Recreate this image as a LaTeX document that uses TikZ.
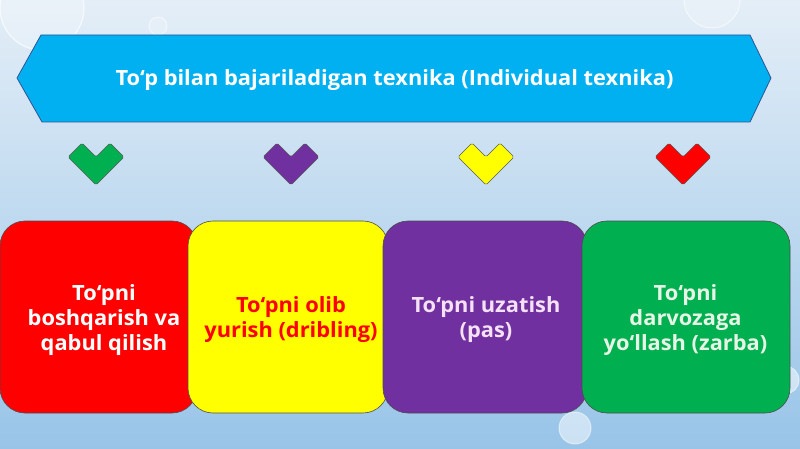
\documentclass[tikz,border=0pt]{standalone}
\usepackage{fontspec}
\setmainfont{Open Sans}
\newcommand\widetext[2]{\scalebox{#1}[1]{\begin{tabular}{@{}c@{}}#2\end{tabular}}}
\begin{document}
\begin{tikzpicture}[x=1pt,y=-1pt,
  card/.style={draw=black!70, line width=0.6pt, rounded corners=25pt, minimum width=#1, minimum height=192pt, inner sep=0pt},
  cardtext/.style={inner sep=0pt, font=\fontsize{21}{25}\selectfont\bfseries},
  heartshape/.style={draw=black!65, line width=0.5pt, rounded corners=1.5pt},
  bubble/.style={white, line width=1pt, opacity=0.6, fill=white, fill opacity=0.2}
]
\definecolor{bgtop}{RGB}{228,238,247}
\definecolor{bgbot}{RGB}{152,196,232}
\definecolor{banner}{RGB}{0,176,240}
\definecolor{bannerline}{RGB}{47,85,151}
\definecolor{cred}{RGB}{255,0,0}
\definecolor{cyellow}{RGB}{255,255,0}
\definecolor{cpurple}{RGB}{112,48,160}
\definecolor{cgreen}{RGB}{0,176,80}
\definecolor{ptext}{RGB}{245,225,245}
\definecolor{gtext}{RGB}{230,245,230}
\useasboundingbox (0,0) rectangle (800,449);
\shade[top color=bgtop, bottom color=bgbot] (0,0) rectangle (800,449);
% faint bubbles
\draw[bubble, line width=1.2pt, opacity=0.7, fill opacity=0.25] (42,8) circle (42);
\draw[bubble] (158,26) circle (9);
\draw[bubble] (712,0) circle (28);
\draw[bubble, opacity=0.5] (785,380) circle (14);
\draw[bubble, opacity=0.5] (575,428) circle (16);
% banner
\draw[fill=banner, draw=bannerline, line width=0.8pt] (17,78) -- (41,35) -- (750,35) -- (771,78) -- (750,122) -- (42,122) -- cycle;
\node[text=white, inner sep=0pt, font=\fontsize{21}{25}\selectfont\bfseries] (title) at (394.5,80) {\scalebox{1.04}[1]{To‘p bilan bajariladigan texnika (Individual texnika)}};
% hearts
\newcommand\myheart[3]{%
  \draw[heartshape, fill=#3] (#1-28,#2) -- (#1-14,#2-14) -- (#1,#2) -- (#1+14,#2-14) -- (#1+28,#2) -- (#1,#2+28) -- cycle;}
\myheart{96}{157}{cgreen}
\myheart{291}{157}{cpurple}
\myheart{486}{157}{cyellow}
\myheart{683}{157}{cred}
% cards
\node[card=197pt, fill=cred] (c1) at (98.5,317) {};
\node[card=200pt, fill=cyellow] (c2) at (288,317) {};
\node[card=204pt, fill=cpurple] (c3) at (485,317) {};
\node[card=208pt, fill=cgreen] (c4) at (686,317) {};
\node[cardtext, text=white] (t1) at (104,320) {\widetext{1.04}{To‘pni\\boshqarish va\\qabul qilish}};
\node[cardtext, text=cred] (t2) at (291,320) {\widetext{1.04}{To‘pni olib\\yurish (dribling)}};
\node[cardtext, text=ptext] (t3) at (486,320) {\widetext{1.04}{To‘pni uzatish\\(pas)}};
\node[cardtext, text=gtext] (t4) at (685.5,320) {\widetext{1.04}{To‘pni\\darvozaga\\yo‘llash (zarba)}};
\end{tikzpicture}
\end{document}
